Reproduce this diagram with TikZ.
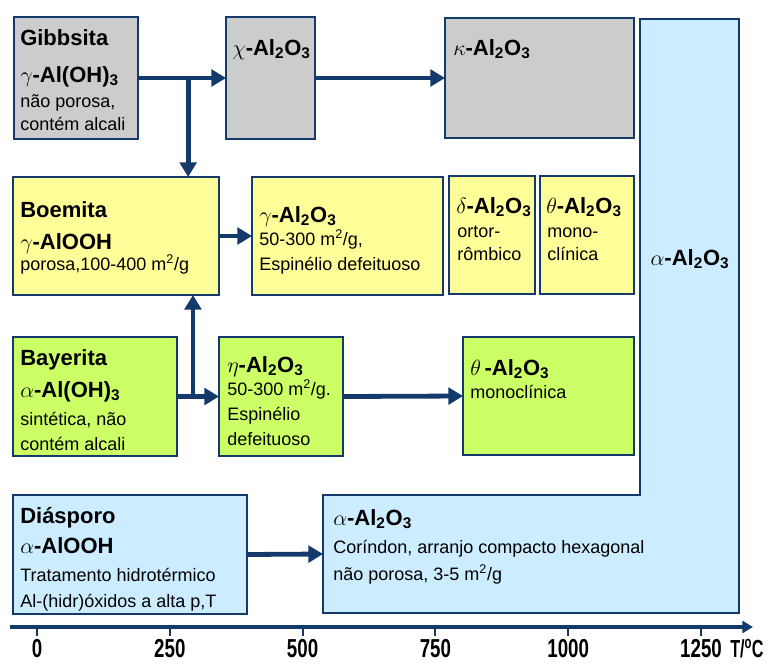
\RequirePackage{fix-cm}
\documentclass[tikz,border=0pt]{standalone}
\usepackage{fontspec}
\setmainfont{Liberation Sans}
\usetikzlibrary{arrows.meta,calc}
\definecolor{grayF}{RGB}{204,204,204}
\definecolor{yelF}{RGB}{255,255,153}
\definecolor{grnF}{RGB}{204,255,102}
\definecolor{bluF}{RGB}{204,236,255}
\definecolor{navy}{RGB}{20,58,108}
\newcommand{\ttl}{\fontsize{16.5}{19}\selectfont\bfseries}
\newcommand{\sml}{\fontsize{13.5}{16}\selectfont}
\newcommand{\axf}{\fontsize{19.5}{21}\selectfont\bfseries}
\newcommand{\mysub}[1]{\textsubscript{#1}}
\newcommand{\mysup}[1]{\textsuperscript{#1}}
\newcommand{\mkbox}[6]{\node[#6, minimum width={(#4-#2)*0.75pt}, minimum height={(#5-#3)*0.75pt}] (#1) at ({(#2+#4)/2},{(#3+#5)/2}) {};}
\tikzset{
  boxst/.style={draw=navy, line width=1.5pt, inner sep=0pt, outer sep=0pt, rectangle},
  inv/.style={inner sep=0pt, outer sep=0pt, rectangle},
  arr/.style={draw=navy, line width=3.6pt, -{Triangle[length=11pt,width=12.5pt]}},
  tl/.style={anchor=base west, inner sep=0pt, font=\ttl},
  sl/.style={anchor=base west, inner sep=0pt, font=\sml},
  axl/.style={anchor=base, inner sep=0pt, font=\axf},
}
\begin{document}
\begin{tikzpicture}[x=0.75pt,y=-0.75pt]
\useasboundingbox (0,0) rectangle (771,664);
% alpha L-shape
\mkbox{acol}{640}{19}{739}{613}{inv}
\mkbox{abot}{323}{495}{739}{613}{inv}
\draw[draw=navy, line width=1.5pt, fill=bluF] (acol.north west) -- (acol.north east) -- (abot.south east) -- (abot.south west) -- (abot.north west) -- (acol.south west |- abot.north) -- cycle;
% boxes
\mkbox{gib}{14}{17}{138}{139}{boxst,fill=grayF}
\mkbox{chi}{226}{17}{315}{139}{boxst,fill=grayF}
\mkbox{kap}{445}{18}{634}{138}{boxst,fill=grayF}
\mkbox{boe}{13}{177}{219}{295}{boxst,fill=yelF}
\mkbox{gam}{252}{177}{443}{295}{boxst,fill=yelF}
\mkbox{del}{449}{176}{535}{294}{boxst,fill=yelF}
\mkbox{the}{540}{176}{634}{294}{boxst,fill=yelF}
\mkbox{bay}{13}{337}{177}{456}{boxst,fill=grnF}
\mkbox{eta}{219}{337}{343}{456}{boxst,fill=grnF}
\mkbox{thm}{463}{337}{634}{455}{boxst,fill=grnF}
\mkbox{dia}{13}{495}{247}{614}{boxst,fill=bluF}
% arrows
\draw[arr] (gib.east) -- (chi.west);
\coordinate (br1) at ($(gib.east)!0.57!(chi.west)$);
\draw[arr] (br1) -- (br1 |- boe.north);
\draw[arr] (chi.east) -- (kap.west);
\draw[arr] (boe.east) -- (gam.west);
\draw[arr] (bay.east) -- (eta.west);
\coordinate (br2) at ($(bay.east)!0.38!(eta.west)$);
\draw[arr] (br2) -- (br2 |- boe.south);
\draw[arr] (eta.east) -- (thm.west);
\draw[arr] (dia.east) -- (abot.west);
% texts
\node[tl] (g1) at (20,45) {Gibbsita};
\node[tl] (g2) at (20,82) {$\gamma$-Al(OH)\mysub{3}};
\node[sl] (g3) at (20,107) {não porosa,};
\node[sl] (g4) at (20,130) {contém alcali};
\node[tl] (c1) at (232,55) {$\chi$-Al\mysub{2}O\mysub{3}};
\node[tl] (k1) at (453,55) {$\kappa$-Al\mysub{2}O\mysub{3}};
\node[tl] (b1) at (20,217) {Boemita};
\node[tl] (b2) at (20,249) {$\gamma$-AlOOH};
\node[sl] (b3) at (20,270) {porosa,100-400 m\mysup{2}/g};
\node[tl] (m1) at (259,222) {$\gamma$-Al\mysub{2}O\mysub{3}};
\node[sl] (m2) at (259,245) {50-300 m\mysup{2}/g,};
\node[sl] (m3) at (259,270) {Espinélio defeituoso};
\node[tl] (d1) at (456,213) {$\delta$-Al\mysub{2}O\mysub{3}};
\node[sl] (d2) at (457,237) {ortor-};
\node[sl] (d3) at (457,260) {rômbico};
\node[tl] (t1) at (546,213) {$\theta$-Al\mysub{2}O\mysub{3}};
\node[sl] (t2) at (547,237) {mono-};
\node[sl] (t3) at (547,260) {clínica};
\node[tl, anchor=base] (ac1) at (690,265) {$\alpha$-Al\mysub{2}O\mysub{3}};
\node[tl] (y1) at (20,365) {Bayerita};
\node[tl] (y2) at (20,397) {$\alpha$-Al(OH)\mysub{3}};
\node[sl] (y3) at (20,425) {sintética, não};
\node[sl] (y4) at (20,450) {contém alcali};
\node[tl] (e1) at (227,372) {$\eta$-Al\mysub{2}O\mysub{3}};
\node[sl] (e2) at (227,395) {50-300 m\mysup{2}/g.};
\node[sl] (e3) at (227,420) {Espinélio};
\node[sl] (e4) at (227,445) {defeituoso};
\node[tl] (h1) at (470,375) {$\theta$\,-Al\mysub{2}O\mysub{3}};
\node[sl] (h2) at (470,398) {monoclínica};
\node[tl] (s1) at (20,523) {Diásporo};
\node[tl] (s2) at (20,553) {$\alpha$-AlOOH};
\node[sl] (s3) at (20,581) {Tratamento hidrotérmico};
\node[sl] (s4) at (20,607) {Al-(hidr)óxidos a alta p,T};
\node[tl] (a1) at (333,525) {$\alpha$-Al\mysub{2}O\mysub{3}};
\node[sl] (a2) at (333,553) {Coríndon, arranjo compacto hexagonal};
\node[sl] (a3) at (333,580) {não porosa, 3-5 m\mysup{2}/g};
% axis
\coordinate (ax0) at (10,627);
\coordinate (ax1) at (753,627);
\draw[draw=navy, line width=2.5pt, -{Triangle[length=8pt,width=9pt]}] (ax0) -- (ax1);
\foreach \v [count=\i from 0] in {0,250,500,750,1000,1250} {
  \coordinate (tk\i) at ({37+\i*132.8},627);
  \draw[navy, line width=1.5pt] (tk\i) -- ++(0,9);
  \node[axl] (lab\i) at ({37+\i*132.8},657) {\scalebox{0.72}[1]{\v}};
}
\node[axl, anchor=base west] (tlab) at (730,657) {\scalebox{0.62}[0.95]{T/\mysup{o}C}};
\end{tikzpicture}
\end{document}
